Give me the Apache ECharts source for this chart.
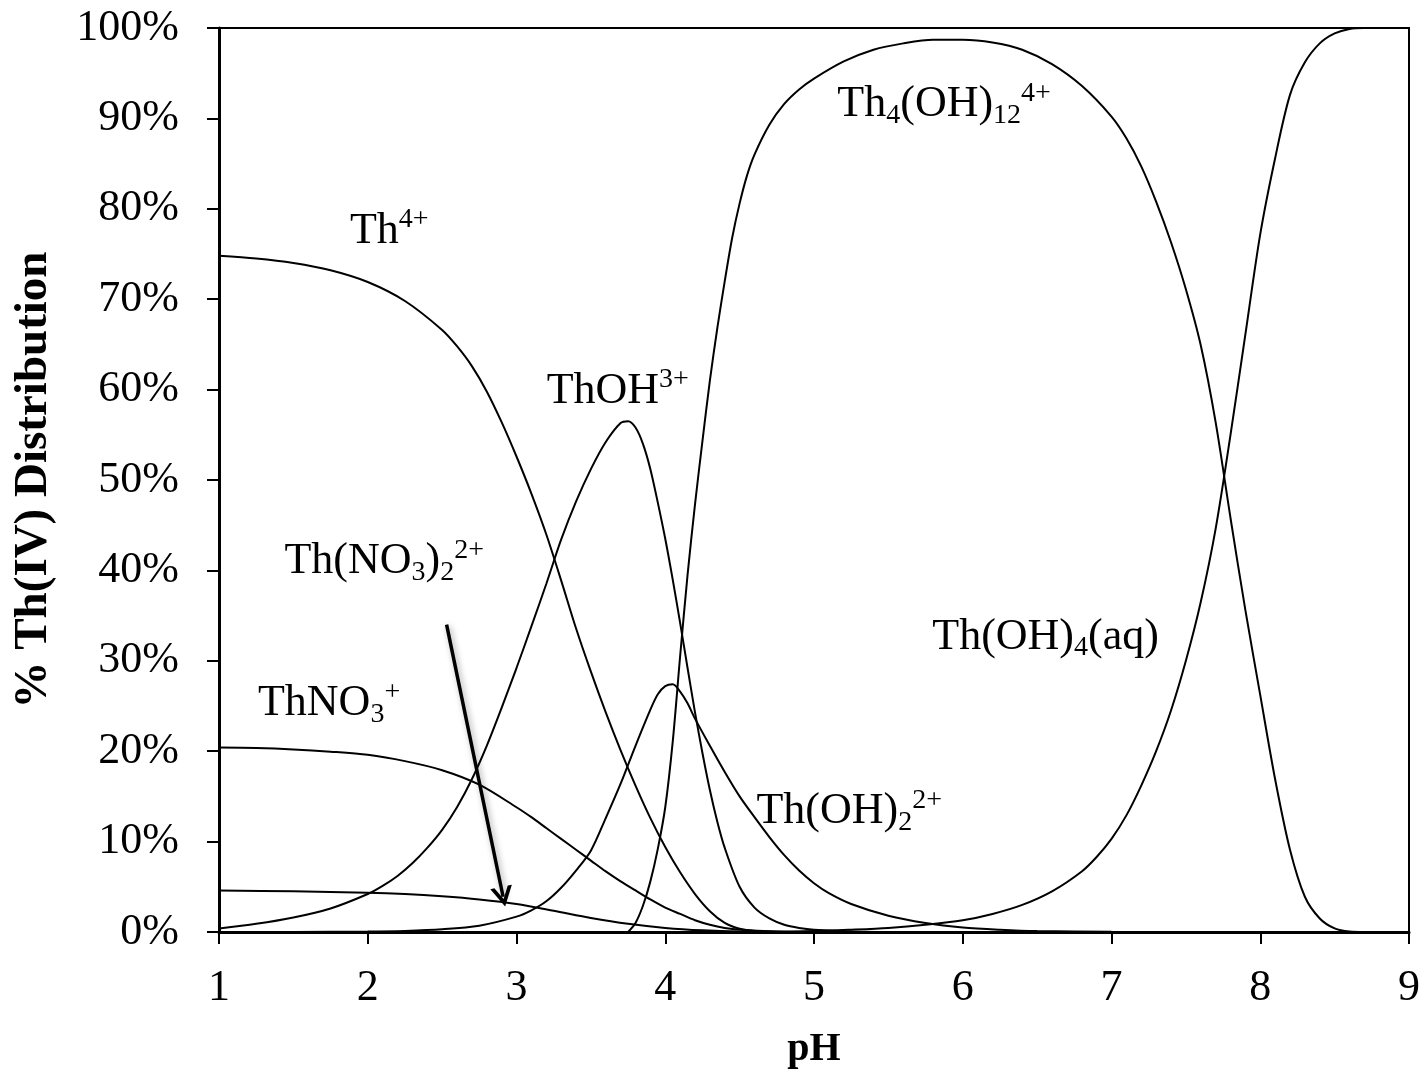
<!DOCTYPE html>
<html><head><meta charset="utf-8">
<script src="https://cdn.jsdelivr.net/npm/echarts/dist/echarts.min.js"></script>
<style>html,body{margin:0;padding:0;background:#fff}#c{width:1423px;height:1083px}</style>
</head><body><div id="c"></div>
<script>
// ---- data (pH, % of Th(IV)) ----
const xTicks = [1, 2, 3, 4, 5, 6, 7, 8, 9];
const th4 = [[1.0,74.8],[1.25,74.5],[1.5,74.0],[1.75,73.2],[2.0,71.9],[2.25,69.8],[2.5,66.6],[2.6,64.8],[2.7,62.6],[2.8,59.8],[2.9,56.4],[3.0,52.6],[3.1,48.5],[3.2,44.0],[3.3,38.9],[3.4,33.6],[3.5,28.8],[3.6,24.3],[3.7,20.1],[3.8,16.2],[3.9,12.6],[4.0,9.4],[4.1,6.6],[4.2,4.2],[4.3,2.3],[4.4,1.0],[4.5,0.35],[4.6,0.1],[4.8,0],[5.0,0],[9.0,0]];
const thOH = [[1.0,0.4],[1.25,0.9],[1.5,1.6],[1.75,2.6],[2.0,4.2],[2.1,5.1],[2.2,6.2],[2.3,7.6],[2.4,9.3],[2.5,11.3],[2.6,13.8],[2.7,16.9],[2.8,20.6],[2.9,24.8],[3.0,29.2],[3.1,33.8],[3.2,38.5],[3.3,43.4],[3.4,47.6],[3.5,51.2],[3.6,54.2],[3.7,56.3],[3.75,56.5],[3.8,55.8],[3.85,54.0],[3.9,51.2],[3.95,47.5],[4.0,43.5],[4.05,39.0],[4.1,34.2],[4.15,29.2],[4.2,24.3],[4.25,19.8],[4.3,15.7],[4.35,12.2],[4.4,9.3],[4.5,5.0],[4.6,2.7],[4.7,1.5],[4.8,0.8],[4.9,0.45],[5.0,0.25],[5.25,0.05],[5.5,0],[9.0,0]];
const thOH2 = [[1.0,0],[1.5,0.01],[2.0,0.05],[2.25,0.12],[2.5,0.3],[2.75,0.7],[3.0,1.7],[3.1,2.4],[3.2,3.4],[3.3,4.9],[3.4,6.8],[3.5,9.0],[3.6,12.6],[3.7,16.4],[3.8,20.6],[3.9,24.6],[3.95,26.3],[4.0,27.2],[4.05,27.4],[4.1,26.6],[4.15,25.3],[4.2,23.6],[4.3,20.6],[4.4,17.7],[4.5,15.0],[4.6,12.7],[4.7,10.5],[4.8,8.5],[4.9,6.8],[5.0,5.4],[5.1,4.3],[5.25,3.1],[5.5,1.8],[5.75,1.0],[6.0,0.5],[6.25,0.25],[6.5,0.1],[7.0,0.02],[7.5,0],[9.0,0]];
const th4OH12 = [[3.75,0],[3.8,1.0],[3.85,2.9],[3.9,5.6],[3.95,9.2],[4.0,13.8],[4.05,21.0],[4.1,30.5],[4.15,39.5],[4.2,47.3],[4.25,54.3],[4.3,61.0],[4.35,66.8],[4.4,72.0],[4.45,76.8],[4.5,80.6],[4.55,83.7],[4.6,86.0],[4.7,89.3],[4.8,91.6],[4.9,93.2],[5.0,94.4],[5.2,96.3],[5.4,97.6],[5.6,98.3],[5.8,98.7],[6.0,98.7],[6.2,98.4],[6.4,97.6],[6.6,96.0],[6.8,93.6],[7.0,90.2],[7.1,87.8],[7.2,84.7],[7.3,80.8],[7.4,76.3],[7.5,71.1],[7.6,64.9],[7.7,56.4],[7.8,45.8],[7.9,35.6],[8.0,26.2],[8.1,16.9],[8.2,9.1],[8.3,3.9],[8.4,1.5],[8.5,0.4],[8.6,0.05],[8.7,0],[9.0,0]];
const thOH4 = [[1.0,0],[4.5,0],[5.0,0.1],[5.25,0.25],[5.5,0.45],[5.75,0.8],[6.0,1.3],[6.2,2.0],[6.4,3.0],[6.6,4.5],[6.8,6.7],[6.9,8.3],[7.0,10.3],[7.1,12.9],[7.2,16.2],[7.3,20.0],[7.4,24.5],[7.5,30.0],[7.6,36.5],[7.7,44.6],[7.8,55.0],[7.9,66.1],[8.0,77.2],[8.1,85.6],[8.2,92.6],[8.3,96.2],[8.4,98.3],[8.5,99.4],[8.6,99.9],[8.7,100],[9.0,100]];
const thNO3 = [[1.0,20.4],[1.25,20.35],[1.5,20.2],[1.75,19.95],[2.0,19.6],[2.25,18.9],[2.5,17.9],[2.75,16.3],[3.0,13.8],[3.1,12.7],[3.2,11.5],[3.3,10.3],[3.4,9.1],[3.5,7.9],[3.6,6.7],[3.7,5.6],[3.8,4.6],[3.9,3.6],[4.0,2.7],[4.1,2.0],[4.2,1.3],[4.3,0.8],[4.4,0.45],[4.5,0.25],[4.75,0.05],[5.0,0],[9.0,0]];
const thNO3_2 = [[1.0,4.6],[1.5,4.5],[2.0,4.35],[2.25,4.2],[2.5,3.95],[2.75,3.6],[3.0,3.1],[3.25,2.35],[3.5,1.55],[3.75,0.9],[4.0,0.45],[4.25,0.18],[4.5,0.05],[5.0,0],[9.0,0]];
const arrowFrom = [2.53, 34];
const arrowTo = [2.91, 3.9];
const speciesLabels = [
  {at:[1.88,76.1], text:'{m|Th}{sup|4+}'},
  {at:[3.203,58.4], text:'{m|ThOH}{sup|3+}'},
  {at:[5.157,90.1], text:'{m|Th}{sub|4}{m|(OH)}{sub|12}{sup|4+}'},
  {at:[1.44,39.5], text:'{m|Th(NO}{sub|3}{m|)}{sub|2}{sup|2+}'},
  {at:[1.262,23.8], text:'{m|ThNO}{sub|3}{sup|+}'},
  {at:[4.613,11.85], text:'{m|Th(OH)}{sub|2}{sup|2+}'},
  {at:[5.795,31.2], text:'{m|Th(OH)}{sub|4}{m|(aq)}'}
];

const FONT = 'Liberation Serif';
const chart = echarts.init(document.getElementById('c'), null, {renderer:'canvas'});
function lineSeries(name, data, extra){
  return Object.assign({
    name, type:'line', data, showSymbol:false, symbol:'none', smooth:0.3,
    lineStyle:{color:'#000', width:2}, silent:true, animation:false, z:3
  }, extra||{});
}
const chevron = 'path://M5,0 L10,10 L8.1,10 L5,3.8 L1.9,10 L0,10 Z';
chart.setOption({
  animation:false,
  backgroundColor:'#fff',
  grid:{left:219, right:13, top:28, bottom:151, show:true, borderColor:'#000', borderWidth:2, backgroundColor:'transparent'},
  xAxis:{type:'value', min:1, max:9, interval:1,
    axisLine:{show:true, onZero:false, lineStyle:{color:'#000', width:3}},
    axisTick:{show:true, length:12, lineStyle:{color:'#000', width:2}},
    axisLabel:{fontSize:44, fontFamily:FONT, color:'#000', margin:34},
    splitLine:{show:false},
    name:'pH', nameLocation:'middle', nameGap:98,
    nameTextStyle:{fontSize:40, fontWeight:'bold', fontFamily:FONT, color:'#000'}},
  yAxis:{type:'value', min:0, max:100, interval:10,
    axisLine:{show:true, onZero:false, lineStyle:{color:'#000', width:3}},
    axisTick:{show:true, length:12, lineStyle:{color:'#000', width:2}},
    axisLabel:{fontSize:44, fontFamily:FONT, color:'#000', margin:40, formatter:'{value}%'},
    splitLine:{show:false},
    name:'% Th(IV) Distribution', nameLocation:'middle', nameGap:162, nameRotate:90,
    nameTextStyle:{fontSize:47, fontWeight:'bold', fontFamily:FONT, color:'#000'}},
  series:[
    lineSeries('Th4+', th4),
    lineSeries('ThOH3+', thOH),
    lineSeries('Th(OH)2 2+', thOH2),
    lineSeries('Th4(OH)12 4+', th4OH12),
    lineSeries('Th(OH)4(aq)', thOH4),
    lineSeries('ThNO3+', thNO3),
    lineSeries('Th(NO3)2 2+', thNO3_2, {
      markLine:{silent:true, animation:false, symbol:['none', chevron], symbolSize:[22,20],
        label:{show:false},
        lineStyle:{color:'#000', width:3.5, type:'solid', shadowBlur:6, shadowColor:'rgba(0,0,0,0.35)', shadowOffsetX:2, shadowOffsetY:2},
        data:[[{coord:arrowFrom},{coord:arrowTo}]]}
    })
  ]
});
const rich = {
  m:{fontSize:44, fontFamily:FONT, lineHeight:50, color:'#000'},
  sup:{fontSize:28, fontFamily:FONT, lineHeight:32, verticalAlign:'top', color:'#000'},
  sub:{fontSize:28, fontFamily:FONT, lineHeight:22, verticalAlign:'bottom', color:'#000'}
};
const BASE = 38;
const graphics = speciesLabels.map(l => {
  const p = chart.convertToPixel({gridIndex:0}, l.at);
  return {type:'text', x:p[0], y:p[1]-BASE, silent:true, z:10,
    style:{text:l.text, rich, align:'left', verticalAlign:'top', fill:'#000'}};
});
chart.setOption({graphic:graphics});
</script>
</body></html>
